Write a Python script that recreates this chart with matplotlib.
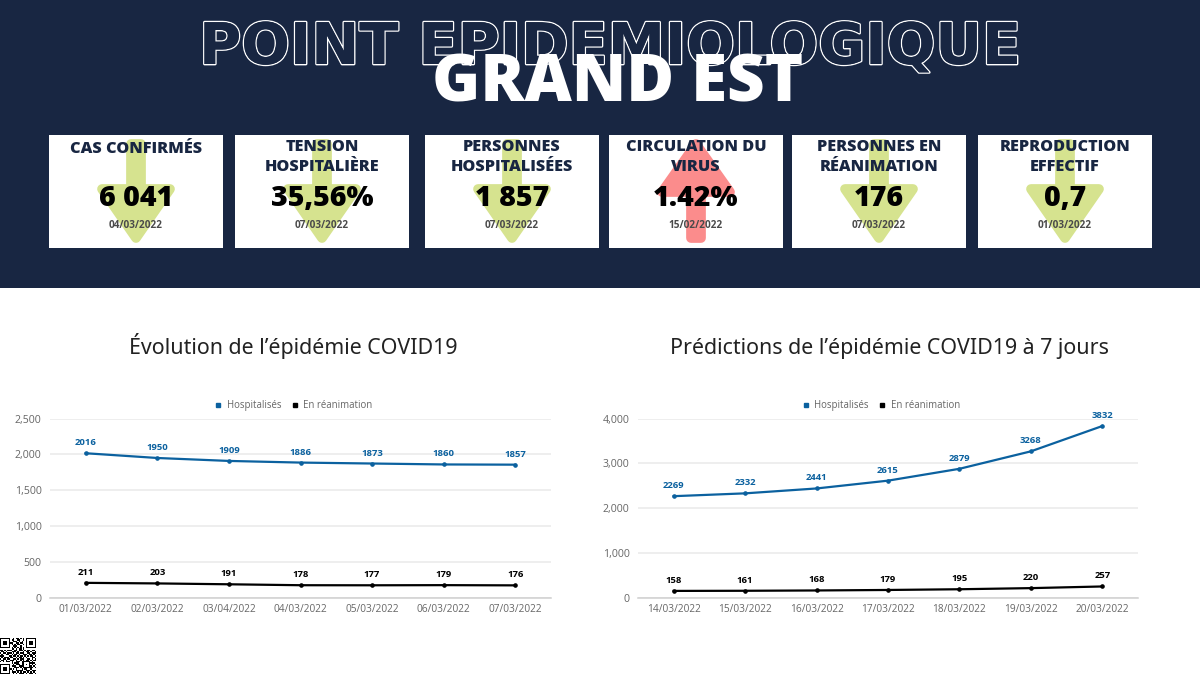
from matplotlib.lines import Line2D
from matplotlib.patches import Polygon, Rectangle
import matplotlib.patheffects as pe
import matplotlib.pyplot as plt
import numpy as np

# ============ Data ============

card_titles = ["CAS CONFIRMÉS", "TENSION\nHOSPITALIÈRE", "PERSONNES\nHOSPITALISÉES",
               "CIRCULATION DU\nVIRUS", "PERSONNES EN\nRÉANIMATION", "REPRODUCTION\nEFFECTIF"]
card_values = ["6 041", "35,56%", "1 857", "1.42%", "176", "0,7"]
card_dates = ["04/03/2022", "07/03/2022", "07/03/2022", "15/02/2022", "07/03/2022", "01/03/2022"]
card_trend = ["down", "down", "down", "up", "down", "down"]

dates_left = ["01/03/2022", "02/03/2022", "03/04/2022", "04/03/2022", "05/03/2022", "06/03/2022", "07/03/2022"]
hosp_left = [2016, 1950, 1909, 1886, 1873, 1860, 1857]
rea_left = [211, 203, 191, 178, 177, 179, 176]

dates_right = ["14/03/2022", "15/03/2022", "16/03/2022", "17/03/2022", "18/03/2022", "19/03/2022", "20/03/2022"]
hosp_right = [2269, 2332, 2441, 2615, 2879, 3268, 3832]
rea_right = [158, 161, 168, 179, 195, 220, 257]

qr_rows = [
    "1111111001011010101111111",
    "1000001011001100101000001",
    "1011101001110101001011101",
    "1011101110011011001011101",
    "1011101010101100101011101",
    "1000001001110010001000001",
    "1111111010101010101111111",
    "0000000011010110100000000",
    "1101011100110111010110110",
    "0110100011101000101101001",
    "1011011101011011100110111",
    "0100110010110100111011010",
    "1110001101101011010101101",
    "0101110110010110101000110",
    "1011011001101011100110101",
    "0110100111010010101101011",
    "1010111010011101111110100",
    "0000000010111001100011110",
    "1111111001011101101010101",
    "1000001011100111100011010",
    "1011101000111010111111101",
    "1011101101010001011001000",
    "1011101010011111001110111",
    "1000001011101010110101010",
    "1111111001010111101011101",
]

NAVY = "#182642"
BLUE = "#0b619f"
GREY = "#666666"
GREEN = "#d6e38f"
RED = "#fb8c8c"

W, H = 1200, 674
card_x = [49, 235, 425, 609, 792, 978]
card_w = 174


def px_axes(fig, x0, y0, x1, y1):
    """Axes placé en pixels de l'image (y vers le bas)."""
    return fig.add_axes([x0 / W, 1 - y1 / H, (x1 - x0) / W, (y1 - y0) / H])


def draw_card(bg, x, title, value, date, trend):
    bg.add_patch(Rectangle((x, 135), card_w, 113, fc="white", ec="none", zorder=2))
    cx = x + card_w / 2
    color = GREEN if trend == "down" else RED
    # flèche décorative derrière le texte
    if trend == "down":
        pts = [(-5, 144), (5, 144), (5, 189), (34, 189), (0, 238), (-34, 189), (-5, 189)]
    else:
        pts = [(-5, 238), (5, 238), (5, 192), (34, 192), (0, 144), (-34, 192), (-5, 192)]
    pts = [(cx + dx, y) for dx, y in pts]
    bg.add_patch(Polygon(pts, closed=True, fc=color, ec=color, lw=7, joinstyle="round", zorder=3))

    two_lines = "\n" in title
    title_y = 157 if two_lines else 149
    bg.text(cx, title_y, title, ha="center", va="center", fontsize=11.7, fontweight=800,
            family="Open Sans", color=NAVY, linespacing=1.3, zorder=4)
    bg.text(cx, 199, value, ha="center", va="center", fontsize=20.5, fontweight=800,
            family="Open Sans", color="black", zorder=4)
    bg.text(cx, 226, date, ha="center", va="center", fontsize=7.2, fontweight="bold",
            family="Open Sans", color="#4a4a4a", zorder=4)


def draw_line_chart(ax, dates, hosp, rea, ymax, step):
    xs = np.arange(len(dates))
    ax.plot(xs, hosp, color=BLUE, lw=1.6, marker="o", ms=2.3, clip_on=False, zorder=3)
    ax.plot(xs, rea, color="black", lw=1.6, marker="o", ms=2.3, clip_on=False, zorder=3)
    for x, v in zip(xs, hosp):
        ax.annotate(str(v), (x, v), xytext=(0, 8), textcoords="offset pixels", ha="center",
                    fontsize=6.8, fontweight="bold", family="Open Sans", color=BLUE)
    for x, v in zip(xs, rea):
        ax.annotate(str(v), (x, v), xytext=(0, 8), textcoords="offset pixels", ha="center",
                    fontsize=6.8, fontweight="bold", family="Open Sans", color="black")

    ax.set_xlim(-0.5, len(dates) - 0.5)
    ax.set_ylim(0, ymax)
    ax.set_xticks(xs, dates)
    ax.set_yticks(np.arange(0, ymax + 1, step))
    ax.yaxis.set_major_formatter(lambda v, _: f"{int(v):,}")
    ax.grid(axis="y", color="#e9e9e9", lw=1.1)
    ax.set_axisbelow(True)
    for side in ["top", "right", "left"]:
        ax.spines[side].set_visible(False)
    ax.spines["bottom"].set_color("#cfcfcf")
    ax.spines["bottom"].set_linewidth(1.1)
    ax.tick_params(axis="y", length=0, labelsize=7.6, labelcolor=GREY, pad=6)
    ax.tick_params(axis="x", length=0, labelsize=7.3, labelcolor=GREY, pad=4)
    for lab in ax.get_xticklabels() + ax.get_yticklabels():
        lab.set_family("Open Sans")
    handles = [Line2D([], [], ls="", marker="s", ms=2.8, color=BLUE, label="Hospitalisés"),
               Line2D([], [], ls="", marker="s", ms=2.8, color="black", label="En réanimation")]
    ax.legend(handles=handles, loc="lower center", bbox_to_anchor=(0.486, 1.004), ncol=2, frameon=False,
              prop={"family": "Open Sans", "size": 6.9}, labelcolor=GREY, handlelength=0.8,
              handletextpad=0.45, columnspacing=1.05, borderpad=0.2)


fig = plt.figure(figsize=(12, 6.74), dpi=100, facecolor="white")

bg = fig.add_axes([0, 0, 1, 1])
bg.set_xlim(0, W)
bg.set_ylim(H, 0)
bg.axis("off")
bg.add_patch(Rectangle((0, 0), W, 288, fc=NAVY, ec="none"))

bg.text(610, 64, "POINT EPIDEMIOLOGIQUE", ha="center", va="baseline", fontsize=41.3, fontweight="bold",
        family="DejaVu Sans", color=NAVY, zorder=2,
        path_effects=[pe.withStroke(linewidth=2.0, foreground="white"), pe.Normal()])
bg.text(618, 84, "GRAND EST", ha="center", va="center", fontsize=47, fontweight=800,
        family="Open Sans", color="white", zorder=2)

for x, t, v, d, tr in zip(card_x, card_titles, card_values, card_dates, card_trend):
    draw_card(bg, x, t, v, d, tr)

bg.text(293, 354, "Évolution de l’épidémie COVID19", ha="center", va="baseline", fontsize=15.4,
        family="Noto Sans", color="#222222")
bg.text(890, 354, "Prédictions de l’épidémie COVID19 à 7 jours", ha="center", va="baseline", fontsize=15.4,
        family="Noto Sans", color="#222222")

ax_left = px_axes(fig, 50, 418.5, 551, 598)
draw_line_chart(ax_left, dates_left, hosp_left, rea_left, 2500, 500)
ax_right = px_axes(fig, 638, 418.5, 1138, 598)
draw_line_chart(ax_right, dates_right, hosp_right, rea_right, 4000, 1000)

ax_qr = px_axes(fig, 0, 638, 36, 674)
ax_qr.imshow([[int(c) for c in row] for row in qr_rows], cmap="gray_r", interpolation="nearest", aspect="auto")
ax_qr.axis("off")

fig.savefig("out.png", dpi=100, facecolor="white")
